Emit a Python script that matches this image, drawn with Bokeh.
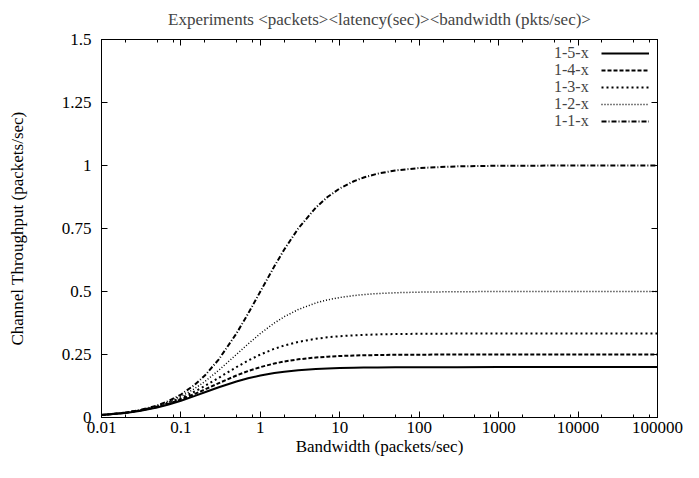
from bokeh.plotting import figure
from bokeh.models import (FixedTicker, CustomJSTickFormatter, LogAxis, LinearAxis,
                          Legend, LegendItem, Range1d, CustomLabelingPolicy)
from bokeh.embed import file_html
from bokeh.resources import INLINE

# Bandwidth (packets/sec) sample points
bandwidth = [0.01, 0.02, 0.03, 0.05, 0.07, 0.1, 0.15, 0.2, 0.3, 0.5, 0.7, 1, 1.5, 2, 3,
             5, 7, 10, 15, 20, 30, 50, 100, 300, 1000, 10000, 100000]

# Channel throughput (packets/sec)
tp_1_5 = [0.0095, 0.0182, 0.0261, 0.0400, 0.0519, 0.0667, 0.0857, 0.1000, 0.1200, 0.1429,
          0.1556, 0.1667, 0.1765, 0.1818, 0.1875, 0.1923, 0.1944, 0.1961, 0.1974, 0.1980,
          0.1987, 0.1992, 0.1996, 0.1999, 0.2000, 0.2000, 0.2000]
tp_1_4 = [0.0096, 0.0185, 0.0268, 0.0417, 0.0547, 0.0714, 0.0938, 0.1111, 0.1364, 0.1667,
          0.1842, 0.2000, 0.2143, 0.2222, 0.2308, 0.2381, 0.2414, 0.2439, 0.2459, 0.2469,
          0.2479, 0.2488, 0.2494, 0.2498, 0.2499, 0.2500, 0.2500]
tp_1_3 = [0.0097, 0.0189, 0.0275, 0.0435, 0.0579, 0.0769, 0.1034, 0.1250, 0.1579, 0.2000,
          0.2258, 0.2500, 0.2727, 0.2857, 0.3000, 0.3125, 0.3182, 0.3226, 0.3261, 0.3279,
          0.3297, 0.3311, 0.3322, 0.3330, 0.3332, 0.3333, 0.3333]
tp_1_2 = [0.0098, 0.0192, 0.0283, 0.0455, 0.0614, 0.0833, 0.1154, 0.1429, 0.1875, 0.2500,
          0.2917, 0.3333, 0.3750, 0.4000, 0.4286, 0.4545, 0.4667, 0.4762, 0.4839, 0.4878,
          0.4918, 0.4950, 0.4975, 0.4992, 0.4998, 0.5000, 0.5000]
tp_1_1 = [0.0099, 0.0196, 0.0291, 0.0476, 0.0654, 0.0909, 0.1304, 0.1667, 0.2308, 0.3333,
          0.4118, 0.5000, 0.6000, 0.6667, 0.7500, 0.8333, 0.8750, 0.9091, 0.9375, 0.9524,
          0.9677, 0.9804, 0.9901, 0.9967, 0.9990, 0.9999, 1.0000]

series_labels = ["1-5-x", "1-4-x", "1-3-x", "1-2-x", "1-1-x"]
x_ticks = [0.01, 0.1, 1, 10, 100, 1000, 10000, 100000]
y_ticks = [0, 0.25, 0.5, 0.75, 1, 1.25, 1.5]
title_text = "Experiments <packets><latency(sec)><bandwidth (pkts/sec)>"

FONT = "Liberation Serif"
FS = "17px"

p = figure(width=683, height=462, x_axis_type="log",
           x_range=Range1d(0.01, 100000), y_range=Range1d(0, 1.5),
           output_backend="svg", toolbar_location=None,
           min_border_left=101, min_border_right=26, min_border_top=38, min_border_bottom=45,
           title=title_text)

p.title.text_font = FONT
p.title.text_font_size = FS
p.title.text_font_style = "normal"
p.title.align = "center"
p.title.standoff = 14

p.grid.visible = False
p.outline_line_color = "black"
p.outline_line_width = 1
p.background_fill_color = "white"
p.border_fill_color = "white"

minor = [m * d for d in x_ticks[:-1] for m in (2, 5, 8)]
xticker = FixedTicker(ticks=x_ticks, minor_ticks=minor)
yticker = FixedTicker(ticks=y_ticks, minor_ticks=[])
fmt = CustomJSTickFormatter(code="return tick.toString();")
no_labels = CustomLabelingPolicy(code="return new indices.constructor(indices.size, 0);")

def style_axis(ax, labels=True):
    ax.axis_line_color = "black"
    ax.major_tick_line_color = "black"
    ax.minor_tick_line_color = "black"
    ax.major_tick_in = 6
    ax.major_tick_out = 0
    ax.minor_tick_in = 3
    ax.minor_tick_out = 0
    if labels:
        ax.major_label_text_font = FONT
        ax.major_label_text_font_size = FS
        ax.major_label_text_color = "black"
        ax.axis_label_text_font = FONT
        ax.axis_label_text_font_size = FS
        ax.axis_label_text_font_style = "normal"
        ax.axis_label_text_color = "black"
    else:
        ax.major_label_policy = no_labels
        ax.major_label_text_font_size = "1px"
        ax.major_label_standoff = 0

xa = p.xaxis[0]
xa.ticker = xticker
xa.formatter = fmt
xa.axis_label = "Bandwidth (packets/sec)"
style_axis(xa)
xa.major_label_standoff = 4
xa.axis_label_standoff = 1

ya = p.yaxis[0]
ya.ticker = yticker
ya.formatter = fmt
ya.axis_label = "Channel Throughput (packets/sec)"
style_axis(ya)
ya.major_label_standoff = 10
ya.axis_label_standoff = 32

top = LogAxis(ticker=xticker, formatter=fmt)
style_axis(top, labels=False)
p.add_layout(top, "above")
right = LinearAxis(ticker=yticker, formatter=fmt)
style_axis(right, labels=False)
p.add_layout(right, "right")

series = [tp_1_5, tp_1_4, tp_1_3, tp_1_2, tp_1_1]
dashes = ["solid", "4 2", "2 3", "1 2", "5 2 1 2"]
widths = [2, 2, 2, 1.5, 2]

renderers = []
for ys, d, w in zip(series, dashes, widths):
    r = p.line(bandwidth, ys, line_color="black", line_width=w, line_dash=d)
    renderers.append(r)

dummy = p.line([], [], line_alpha=0)

common = dict(glyph_height=20, label_height=20, label_standoff=0, spacing=0, padding=0,
              margin=0, border_line_alpha=0, background_fill_alpha=0,
              label_text_font=FONT, label_text_font_size="16px")
for i, (lab, r) in enumerate(zip(series_labels, renderers)):
    vy = 354 - 17 * i
    p.add_layout(Legend(items=[LegendItem(label=lab, renderers=[dummy])],
                        location=(452, vy), glyph_width=1, **common), "center")
    p.add_layout(Legend(items=[LegendItem(label=" ", renderers=[r])],
                        location=(500, vy), glyph_width=48, label_width=0, **common), "center")

open("out.html", "w").write(file_html(p, INLINE))
